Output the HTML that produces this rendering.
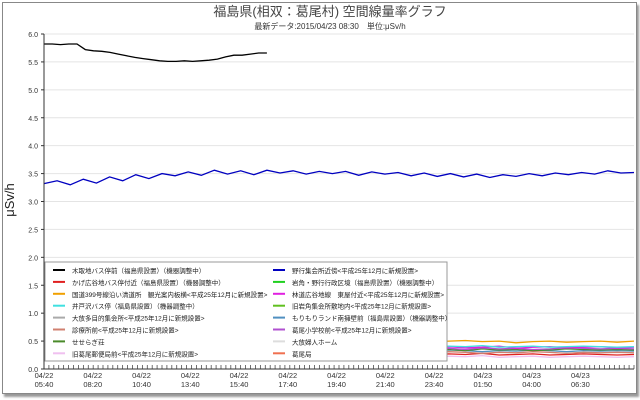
<!DOCTYPE html>
<html><head><meta charset="utf-8"><style>
body{margin:0;background:#fff;width:640px;height:400px;overflow:hidden;font-family:"Liberation Sans","Noto Sans CJK JP",sans-serif}
#frame{position:absolute;left:2px;top:2px;width:633px;height:390px;border:1px solid #888;box-shadow:2px 3px 2px #999;background:#fff}
</style></head><body>
<div id="frame"></div>
<svg id="c" width="640" height="400" style="position:absolute;left:0;top:0" font-family="Liberation Sans, Noto Sans CJK JP, sans-serif">
<text x="330" y="16" font-size="13" text-anchor="middle" fill="#444">福島県(相双：葛尾村) 空間線量率グラフ</text>
<text x="330" y="29" font-size="8" text-anchor="middle" fill="#333">最新データ:2015/04/23 08:30　単位:μSv/h</text>
<text x="14" y="200" font-size="13" text-anchor="middle" transform="rotate(-90 14 200)" fill="#222">μSv/h</text>
<g id="grid"></g><g id="series"></g><g id="axes"></g><g id="legend"></g>
</svg>
<script>
const yTicks=["0.0","0.5","1.0","1.5","2.0","2.5","3.0","3.5","4.0","4.5","5.0","5.5","6.0"];
const xDates=["04/22","04/22","04/22","04/22","04/22","04/22","04/22","04/22","04/22","04/23","04/23","04/23"];
const xTimes=["05:40","08:20","10:40","13:40","15:40","17:40","19:40","21:40","23:40","01:50","04:00","06:30"];
const blackVals=[5.82,5.82,5.81,5.82,5.82,5.72,5.70,5.69,5.67,5.64,5.61,5.58,5.56,5.54,5.52,5.51,5.51,5.52,5.51,5.52,5.53,5.55,5.59,5.62,5.62,5.64,5.66,5.66];
const blueVals=[3.32,3.37,3.30,3.40,3.33,3.44,3.37,3.48,3.41,3.50,3.46,3.53,3.47,3.56,3.49,3.55,3.48,3.56,3.51,3.55,3.49,3.54,3.50,3.54,3.47,3.53,3.49,3.52,3.46,3.51,3.45,3.50,3.44,3.49,3.43,3.48,3.45,3.50,3.46,3.51,3.48,3.52,3.49,3.55,3.51,3.52];
const orangeVals=[0.50,0.49,0.50,0.48,0.50,0.49,0.51,0.50,0.52,0.50,0.49,0.51,0.50,0.48,0.50,0.49,0.51,0.50,0.48,0.49,0.50,0.51,0.49,0.48,0.50,0.51,0.49,0.50,0.47,0.49,0.50,0.48,0.49,0.50,0.48,0.50];
const magentaVals=[0.38,0.40,0.37,0.39,0.41,0.38,0.40,0.37,0.39,0.41,0.38,0.40,0.39,0.37,0.40,0.38,0.41,0.39,0.37,0.40,0.38,0.41,0.39,0.37,0.40,0.38,0.39,0.41,0.37,0.39,0.40,0.38,0.39,0.40,0.38,0.39];
const greenVals=[0.34,0.35,0.33,0.36,0.34,0.35,0.33,0.36,0.35,0.34,0.36,0.33,0.35,0.34,0.36,0.35,0.33,0.35,0.36,0.34,0.33,0.35,0.36,0.34,0.35,0.33,0.36,0.34,0.35,0.33,0.34,0.36,0.35,0.34,0.35,0.34];
const redVals=[0.26,0.27,0.25,0.26,0.28,0.26,0.25,0.27,0.26,0.25,0.27,0.26,0.28,0.25,0.26,0.27,0.25,0.26,0.28,0.26,0.25,0.27,0.26,0.25,0.27,0.26,0.28,0.25,0.26,0.27,0.25,0.26,0.27,0.26,0.25,0.26];
const salmonVals=[0.30,0.29,0.31,0.30,0.28,0.30,0.31,0.29,0.30,0.28,0.30,0.31,0.29,0.30,0.28,0.31,0.30,0.29,0.30,0.28,0.31,0.29,0.30,0.29,0.31,0.30,0.28,0.30,0.29,0.31,0.30,0.28,0.30,0.29,0.30,0.29];
const pinkVals=[0.22,0.23,0.21,0.22,0.24,0.22,0.21,0.23,0.22,0.21,0.23,0.22,0.24,0.21,0.22,0.23,0.21,0.22,0.24,0.22,0.21,0.23,0.22,0.21,0.23,0.22,0.24,0.21,0.22,0.23,0.21,0.22,0.23,0.22,0.21,0.22];
const purpleVals=[0.36,0.37,0.35,0.38,0.36,0.37,0.35,0.38,0.37,0.36,0.38,0.35,0.37,0.36,0.38,0.37,0.35,0.37,0.38,0.36,0.35,0.37,0.38,0.36,0.37,0.35,0.38,0.36,0.37,0.35,0.36,0.38,0.37,0.36,0.37,0.36];
const cyanVals=[0.40,0.41,0.39,0.40,0.42,0.40,0.39,0.41,0.40,0.39,0.41,0.40,0.42,0.39,0.40,0.41,0.39,0.40,0.42,0.40,0.39,0.41,0.40,0.39,0.41,0.40,0.42,0.39,0.40,0.41,0.39,0.40,0.41,0.40,0.39,0.40];
const steelVals=[0.33,0.32,0.34,0.33,0.31,0.33,0.34,0.32,0.33,0.31,0.33,0.34,0.32,0.33,0.31,0.34,0.33,0.32,0.33,0.31,0.34,0.32,0.33,0.32,0.34,0.33,0.31,0.33,0.32,0.34,0.33,0.31,0.33,0.32,0.33,0.32];
const legendLeft=["木取地バス停前（福島県設置）（機器調整中）","かげ広谷地バス停付近（福島県設置）（機器調整中）","国道399号線沿い清道所　観光案内板横<平成25年12月に新規設置>","井戸沢バス停（福島県設置）（機器調整中）","大放多目的集会所<平成25年12月に新規設置>","診療所前<平成25年12月に新規設置>","せせらぎ荘","旧葛尾郵便局前<平成25年12月に新規設置>"];
const legendLeftColors=["#000","#e02020","#f0a000","#40e0e0","#aaa","#d08070","#4a8a2a","#f0c0f0"];
const legendRight=["野行集会所近傍<平成25年12月に新規設置>","岩角・野行行政区境（福島県設置）（機器調整中）","林道広谷地線　東屋付近<平成25年12月に新規設置>","旧岩角集会所敷地内<平成25年12月に新規設置>","もりもりランド南擁壁前（福島県設置）（機器調整中）","葛尾小学校前<平成25年12月に新規設置>","大放婦人ホーム","葛尾局"];
const legendRightColors=["#0000c0","#20d020","#e020e0","#60c020","#5090c0","#b050d0","#ddd","#f07050"];

const NS="http://www.w3.org/2000/svg";
const X0=44,X1=634,Y0=369,Y1=34,YMAX=6;
const yS=v=>Y0-(v/YMAX)*(Y0-Y1);
const N=46;
function mk(t,a,p){const e=document.createElementNS(NS,t);for(const k in a)e.setAttribute(k,a[k]);p.appendChild(e);return e;}
const grid=document.getElementById('grid'),axes=document.getElementById('axes'),ser=document.getElementById('series'),leg=document.getElementById('legend');
yTicks.forEach((t,i)=>{const v=parseFloat(t),y=yS(v);
 if(i>0){const g=mk('line',{x1:X0,x2:X1,y1:y,y2:y,stroke:'#e4e4e4','stroke-width':1},grid);}
 const tx=mk('text',{x:X0-6,y:y+3,'font-size':7,'text-anchor':'end',fill:'#333'},axes);tx.textContent=t;
 
 mk('line',{x1:X0-3,x2:X0,y1:y,y2:y,stroke:'#333'},axes);
});
for(let k=0;k<=120;k++){const x=X0+k*(X1-X0)/120;mk('line',{x1:x,x2:x,y1:Y0,y2:Y0-4,stroke:'#333','stroke-width':0.7},axes);}
const ax=mk('path',{d:`M${X0} ${Y1}V${Y0}H${X1}`,stroke:'#333',fill:'none'},axes);

xTimes.forEach((t,i)=>{const x=X0+i*(X1-X0)/12.1;
 const a=mk('text',{x:x,y:378,'font-size':7.5,'text-anchor':'middle',fill:'#333'},axes);a.textContent=xDates[i];
 
 const b=mk('text',{x:x,y:387,'font-size':7.5,'text-anchor':'middle',fill:'#333'},axes);b.textContent=t;
 
});
function line(vals,color,name,start,step){let d='';vals.forEach((v,i)=>{const x=X0+(start+i*step)*(X1-X0)/(N-1);d+=(i?'L':'M')+x.toFixed(1)+' '+yS(v).toFixed(1);});
 const p=mk('path',{d:d,stroke:color,fill:'none','stroke-width':1.3},ser);
 }
const SM=45/35;
line(pinkVals,'#f0c0f0','series-pink',0,SM);
line(redVals,'#e02020','series-red',0,SM);
line(salmonVals,'#d08070','series-salmon',0,SM);
line(steelVals,'#5090c0','series-steelblue',0,SM);
line(greenVals,'#4a8a2a','series-green',0,SM);
line(purpleVals,'#b050d0','series-purple',0,SM);
line(magentaVals,'#e020e0','series-magenta',0,SM);
line(cyanVals,'#40e0e0','series-cyan',0,SM);
line(orangeVals,'#f0a000','series-orange',0,SM);
line(blueVals,'#0000c0','series-blue',0,1);
line(blackVals,'#000','series-black',0,17.0/27);
const lb=mk('rect',{x:45,y:262,width:402,height:99,fill:'#fff',stroke:'#999'},leg);

function entries(labels,colors,x){labels.forEach((t,i)=>{const y=270+i*11.9;
 const g=mk('g',{},leg);
 mk('line',{x1:x,x2:x+12,y1:y,y2:y,stroke:colors[i],'stroke-width':2},g);
 const tx=mk('text',{x:x+19,y:y+3,'font-size':6.5,fill:'#222'},g);tx.textContent=t;});}
entries(legendLeft,legendLeftColors,53);
entries(legendRight,legendRightColors,273);
</script>
</body></html>
